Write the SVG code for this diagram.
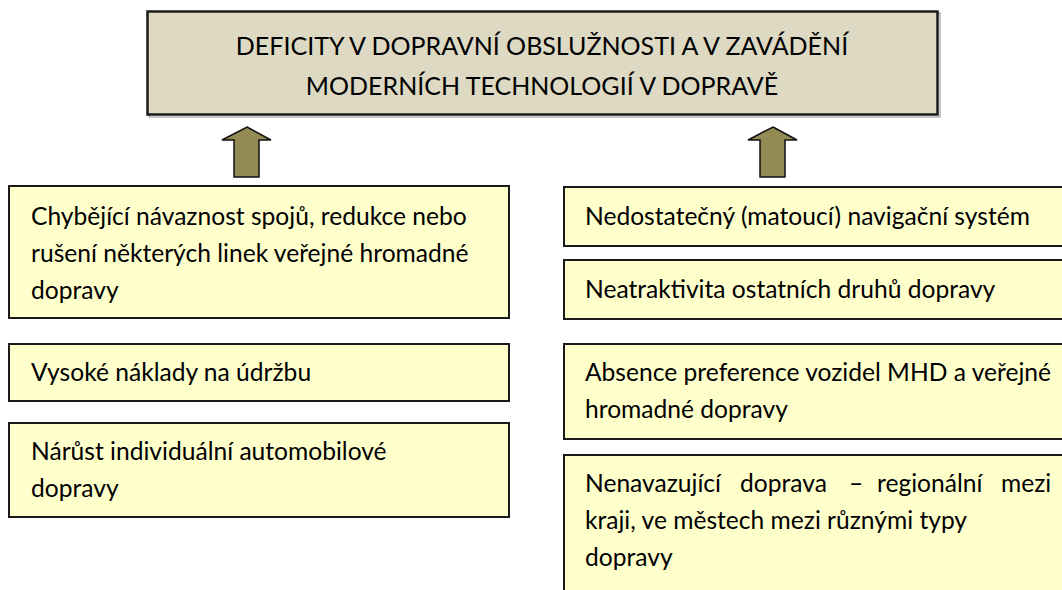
<svg xmlns="http://www.w3.org/2000/svg" width="1062" height="590" viewBox="0 0 1062 590">
<style>
.box{fill:#ffffcc;stroke:#1a1a1a;stroke-width:2}
.shadow{fill:none;stroke:#8c8c8c;stroke-width:1}
.title{fill:#ddd9c3;stroke:#1a1a1a;stroke-width:2.5}
.t{font-family:Lato,"Open Sans",sans-serif;font-size:24.6px;fill:#000}
.h{font-family:Lato,"Open Sans",sans-serif;font-size:25px;fill:#000;text-anchor:middle}
.arrow{fill:#948a54;stroke:#111;stroke-width:1.5;stroke-linejoin:miter}
</style>
<rect width="1062" height="590" fill="#fff"/>
<g id="title-node">
<rect class="shadow" x="149" y="13" width="791" height="104"/>
<rect class="title" x="147.5" y="11.5" width="790" height="103"/>
<text class="h" x="542" y="55">DEFICITY V DOPRAVNÍ OBSLUŽNOSTI A V ZAVÁDĚNÍ</text>
<text class="h" x="542" y="95">MODERNÍCH TECHNOLOGIÍ V DOPRAVĚ</text>
</g>
<g id="connectors">
<path class="arrow" d="M247,127 L271,140 L259,140 L259,177 L234,177 L234,140 L222,140 Z"/>
<path class="arrow" d="M773,127 L797,140 L785,140 L785,177 L760,177 L760,140 L748,140 Z"/>
</g>
<g id="left-1">
<rect class="box" x="9" y="186" width="500" height="132"/>
<text class="t" x="31" y="225">Chybějící návaznost spojů, redukce nebo</text>
<text class="t" x="31" y="262">rušení některých linek veřejné hromadné</text>
<text class="t" x="31" y="299">dopravy</text>
</g>
<g id="left-2">
<rect class="box" x="9" y="344" width="500" height="57"/>
<text class="t" x="31" y="381">Vysoké náklady na údržbu</text>
</g>
<g id="left-3">
<rect class="box" x="9" y="423" width="500" height="94"/>
<text class="t" x="31" y="460">Nárůst individuální automobilové</text>
<text class="t" x="31" y="497">dopravy</text>
</g>
<g id="right-1">
<rect class="box" x="564" y="187" width="510" height="59"/>
<text class="t" x="585" y="225">Nedostatečný (matoucí) navigační systém</text>
</g>
<g id="right-2">
<rect class="box" x="564" y="260" width="510" height="59"/>
<text class="t" x="585" y="298">Neatraktivita ostatních druhů dopravy</text>
</g>
<g id="right-3">
<rect class="box" x="564" y="344" width="510" height="95"/>
<text class="t" x="585" y="381">Absence preference vozidel MHD a veřejné</text>
<text class="t" x="585" y="418">hromadné dopravy</text>
</g>
<g id="right-4">
<rect class="box" x="564" y="455" width="510" height="150"/>
<text class="t" y="492"><tspan x="585">Nenavazující</tspan><tspan x="740">doprava</tspan><tspan x="849">–</tspan><tspan x="877">regionální</tspan><tspan x="1001">mezi</tspan></text>
<text class="t" x="585" y="529">kraji, ve městech mezi různými typy</text>
<text class="t" x="585" y="566">dopravy</text>
</g>
</svg>
